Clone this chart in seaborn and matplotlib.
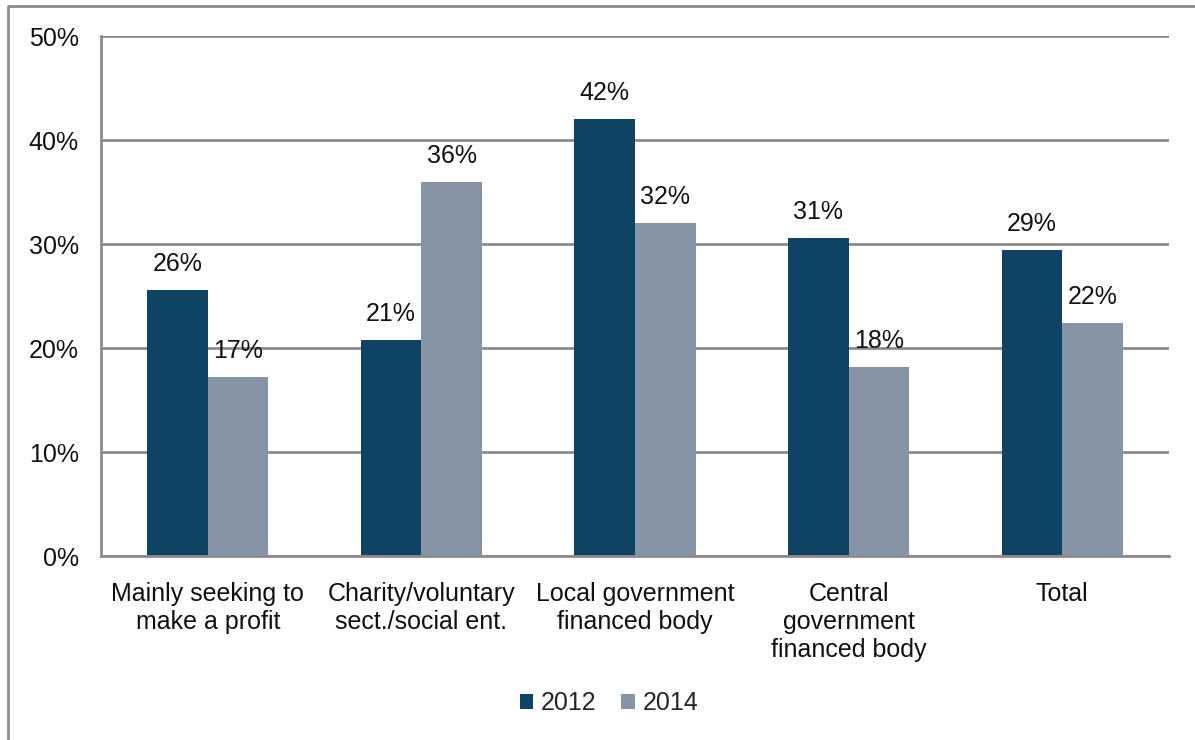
import matplotlib
matplotlib.use("Agg")
import matplotlib.pyplot as plt
from matplotlib.lines import Line2D
from matplotlib.patches import Patch
import seaborn as sns
import pandas as pd
import numpy as np

categories = [
    "Mainly seeking to\nmake a profit",
    "Charity/voluntary\nsect./social ent.",
    "Local government\nfinanced body",
    "Central\ngovernment\nfinanced body",
    "Total",
]
years = ["2012", "2014"]
values_2012 = [25.6, 20.8, 42.0, 30.6, 29.4]
values_2014 = [17.2, 36.0, 32.0, 18.2, 22.4]
y_ticks = [0, 10, 20, 30, 40, 50]

colors = {"2012": "#0E4364", "2014": "#8794A5"}
grid_color = "#8C8C8C"
text_color = "#111111"
fs = 18

sns.set_theme(style="white")
plt.rcParams["font.family"] = ["Liberation Sans", "DejaVu Sans"]

df = pd.DataFrame({
    "category": categories * 2,
    "year": [years[0]] * len(categories) + [years[1]] * len(categories),
    "value": values_2012 + values_2014,
})

fig = plt.figure(figsize=(11.95, 7.40), dpi=100)
ax = fig.add_axes([101 / 1195, 1 - 556 / 740, (1169 - 101) / 1195, (556 - 36) / 740])

sns.barplot(data=df, x="category", y="value", hue="year", order=categories,
            hue_order=years, palette=colors, width=0.567, gap=0,
            saturation=1, legend=False, ax=ax, errorbar=None)

for patch in ax.patches:
    patch.set_edgecolor("none")

ax.set_ylim(0, 50)
ax.set_xlim(-0.5, len(categories) - 0.5)
ax.set_yticks(y_ticks)
ax.set_yticklabels([f"{t}%" for t in y_ticks])
ax.yaxis.grid(True, color=grid_color, linewidth=2)
ax.set_axisbelow(True)
ax.set_xlabel("")
ax.set_ylabel("")

# category labels centred, boundary tick marks between groups
ax.set_xticks(range(len(categories)))
ax.set_xticklabels(categories, fontsize=fs, linespacing=1.2, va="top")
ax.set_xticks(np.arange(-0.5, len(categories), 1.0), minor=True)
ax.tick_params(axis="x", which="major", length=0, pad=19)
ax.tick_params(axis="x", which="minor", length=7, width=2, color=grid_color, direction="out")
ax.tick_params(axis="y", length=7, width=2, color=grid_color, direction="out",
               labelsize=fs, pad=9)
ax.tick_params(axis="both", labelcolor=text_color)

for side in ["top", "right"]:
    ax.spines[side].set_visible(False)
for side in ["left", "bottom"]:
    ax.spines[side].set_color(grid_color)
    ax.spines[side].set_linewidth(2)

# value labels above each bar
for container in ax.containers:
    labels = [f"{v:.0f}%" for v in container.datavalues]
    ax.bar_label(container, labels=labels, padding=10, fontsize=fs, color=text_color)

handles = [Patch(facecolor=colors[y], edgecolor="none", label=y) for y in years]
fig.legend(handles=handles, loc="center", bbox_to_anchor=(609 / 1195, 1 - 703 / 740),
           ncol=2, frameon=False, fontsize=fs, handlelength=0.55, handleheight=0.55,
           handletextpad=0.3, columnspacing=1.0)

# outer chart frame
fx, fy = 8 / 1195, 1 - 6 / 740
fig.add_artist(Line2D([fx, fx, 1], [0, fy, fy], transform=fig.transFigure,
                      color=grid_color, linewidth=2))

fig.savefig("out.png", dpi=100)
